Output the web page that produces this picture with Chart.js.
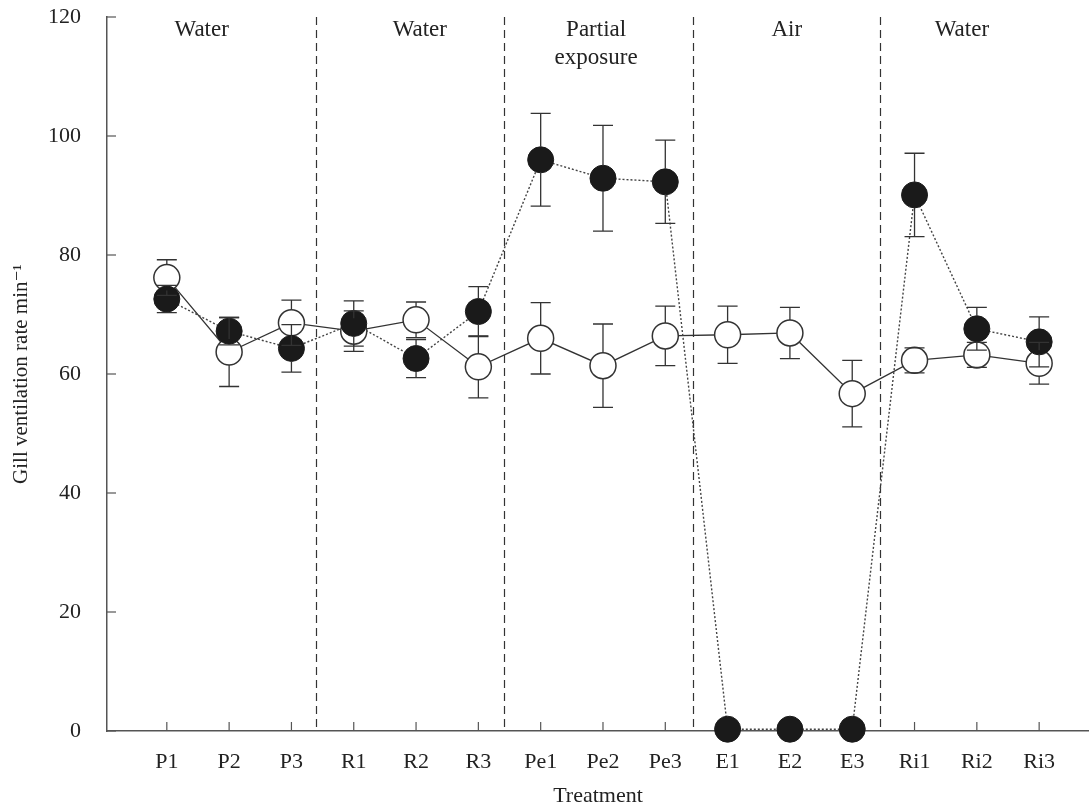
<!DOCTYPE html>
<html lang="en">
<head>
    <meta charset="UTF-8">
    <title>Gill ventilation rate</title>
    <style>
        body { margin: 0; background: #fff; }
        .wrap { width: 1089px; height: 811px; }
    </style>
    <script src="https://cdn.jsdelivr.net/npm/chart.js"></script>
</head>
<body>
<div class="wrap"><canvas id="gill" width="1089" height="811"></canvas></div>
<script>
    // treatments along the x axis
    const treatments = ['P1', 'P2', 'P3', 'R1', 'R2', 'R3', 'Pe1', 'Pe2', 'Pe3', 'E1', 'E2', 'E3', 'Ri1', 'Ri2', 'Ri3'];
    // open circles (solid line)
    const openVals = [76.2, 63.7, 68.6, 67.2, 69.1, 61.2, 66.0, 61.4, 66.4, 66.6, 66.9, 56.7, 62.3, 63.2, 61.8];
    const openErr = [3.0, 5.8, 3.8, 3.4, 3.0, 5.2, 6.0, 7.0, 5.0, 4.8, 4.3, 5.6, 2.1, 2.1, 3.5];
    // filled circles (dotted line)
    const filledVals = [72.6, 67.2, 64.3, 68.5, 62.6, 70.5, 96.0, 92.9, 92.3, 0.3, 0.3, 0.3, 90.1, 67.6, 65.4];
    const filledErr = [2.3, 2.3, 4.0, 3.8, 3.2, 4.2, 7.8, 8.9, 7.0, 0, 0, 0, 7.0, 3.6, 4.2];
    const groupNames = [['Water'], ['Water'], ['Partial', 'exposure'], ['Air'], ['Water']];
    const yTicks = [0, 20, 40, 60, 80, 100, 120];

    const FONT = '"Liberation Serif", "DejaVu Serif", serif';
    const INK = '#222';

    const toPts = arr => arr.map((v, i) => ({ x: i + 1, y: v }));

    // error bars, dividers, group labels and inward ticks
    const extras = {
        id: 'extras',
        beforeDatasetsDraw(chart) {
            const { ctx, chartArea: a, scales: { x, y } } = chart;
            ctx.save();
            // dashed dividers between phases
            ctx.strokeStyle = '#333';
            ctx.lineWidth = 1.2;
            ctx.setLineDash([8, 5]);
            [3.39, 6.41, 9.44, 12.45].forEach(v => {
                const px = Math.round(x.getPixelForValue(v)) + 0.5;
                ctx.beginPath();
                ctx.moveTo(px, a.top);
                ctx.lineTo(px, a.bottom);
                ctx.stroke();
            });
            ctx.setLineDash([]);
            // inward ticks
            ctx.strokeStyle = '#555';
            ctx.lineWidth = 1.2;
            treatments.forEach((t, i) => {
                const px = x.getPixelForValue(i + 1);
                ctx.beginPath();
                ctx.moveTo(px, a.bottom);
                ctx.lineTo(px, a.bottom - 9);
                ctx.stroke();
            });
            yTicks.forEach(v => {
                const py = y.getPixelForValue(v);
                ctx.beginPath();
                ctx.moveTo(a.left, py);
                ctx.lineTo(a.left + 9, py);
                ctx.stroke();
            });
            // group labels
            ctx.fillStyle = INK;
            ctx.font = '23px ' + FONT;
            ctx.textAlign = 'center';
            ctx.textBaseline = 'middle';
            const gx = [1.56, 5.06, 7.89, 10.95, 13.76];
            groupNames.forEach((lines, i) => {
                lines.forEach((txt, k) => {
                    ctx.fillText(txt, x.getPixelForValue(gx[i]), 30 + k * 28);
                });
            });
            ctx.restore();
        },
        afterDatasetsDraw(chart) {
            const { ctx, scales: { y } } = chart;
            const r = 13;
            ctx.save();
            ctx.strokeStyle = '#333';
            ctx.lineWidth = 1.3;
            [[0, openVals, openErr], [1, filledVals, filledErr]].forEach(([di, vals, errs]) => {
                const meta = chart.getDatasetMeta(di);
                vals.forEach((v, i) => {
                    if (!errs[i]) return;
                    const px = meta.data[i].x;
                    const c = y.getPixelForValue(v);
                    const top = y.getPixelForValue(v + errs[i]);
                    const bot = y.getPixelForValue(v - errs[i]);
                    ctx.beginPath();
                    if (top < c - r) { ctx.moveTo(px, top); ctx.lineTo(px, c - r); }
                    if (bot > c + r) { ctx.moveTo(px, c + r); ctx.lineTo(px, bot); }
                    ctx.moveTo(px - 10, top); ctx.lineTo(px + 10, top);
                    ctx.moveTo(px - 10, bot); ctx.lineTo(px + 10, bot);
                    ctx.stroke();
                });
            });
            ctx.restore();
        }
    };

    new Chart(document.getElementById('gill'), {
        type: 'line',
        data: {
            datasets: [{
                label: 'open',
                data: toPts(openVals),
                order: 1,
                borderColor: '#333',
                borderWidth: 1.3,
                pointRadius: 13,
                pointBackgroundColor: '#fff',
                pointBorderColor: '#333',
                pointBorderWidth: 1.5,
                tension: 0
            }, {
                label: 'filled',
                data: toPts(filledVals),
                order: 0,
                borderColor: '#444',
                borderWidth: 1.4,
                borderDash: [2, 2],
                pointRadius: 13,
                pointBackgroundColor: '#1a1a1a',
                pointBorderColor: '#1a1a1a',
                pointBorderWidth: 1,
                tension: 0,
                clip: false
            }]
        },
        options: {
            responsive: false,
            animation: false,
            devicePixelRatio: 1,
            layout: { autoPadding: false, padding: { top: 17, right: 0, left: 0, bottom: 0 } },
            plugins: { legend: { display: false }, tooltip: { enabled: false } },
            scales: {
                x: {
                    type: 'linear',
                    min: 0.04,
                    max: 15.8,
                    afterBuildTicks: s => { s.ticks = treatments.map((t, i) => ({ value: i + 1 })); },
                    afterFit: s => { s.height = 80; s.paddingLeft = 0; s.paddingRight = 0; },
                    grid: { display: false },
                    border: { display: true, color: '#555', width: 1.5 },
                    ticks: {
                        padding: 10,
                        autoSkip: false,
                        maxRotation: 0,
                        color: INK,
                        font: { family: FONT, size: 22 },
                        callback: v => treatments[v - 1] || ''
                    },
                    title: {
                        display: true,
                        text: 'Treatment',
                        color: INK,
                        font: { family: FONT, size: 22 },
                        padding: { top: 14, bottom: 2 }
                    }
                },
                y: {
                    min: 0,
                    max: 120,
                    afterBuildTicks: s => { s.ticks = yTicks.map(v => ({ value: v })); },
                    afterFit: s => { s.width = 107; s.paddingTop = 0; s.paddingBottom = 0; },
                    grid: { display: false },
                    border: { display: true, color: '#555', width: 1.5 },
                    ticks: {
                        padding: 18,
                        color: INK,
                        font: { family: FONT, size: 22 }
                    },
                    title: {
                        display: true,
                        text: 'Gill ventilation rate min\u207B\u00B9',
                        color: INK,
                        font: { family: FONT, size: 21 },
                        padding: { top: 9, bottom: 0 }
                    }
                }
            }
        },
        plugins: [extras]
    });
</script>
</body>
</html>
